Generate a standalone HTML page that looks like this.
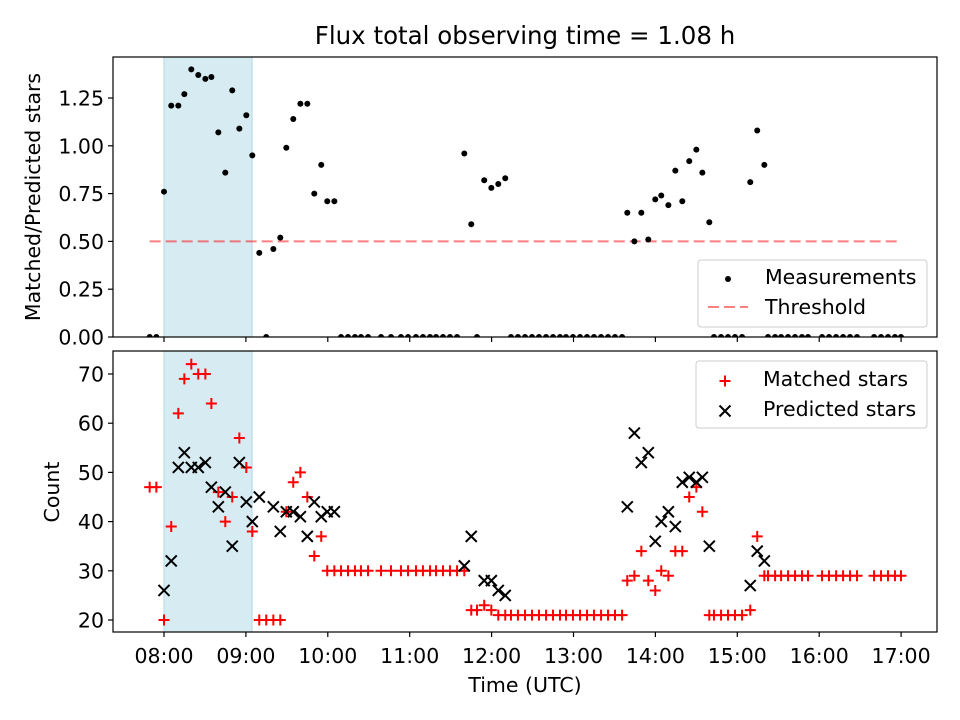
<!DOCTYPE html>
<html><head><meta charset="utf-8">
<style>
html,body{margin:0;padding:0;background:#fff;}
svg{display:block;font-family:"DejaVu Sans","Liberation Sans",sans-serif;}
</style></head>
<body>
<svg id="chart" width="960" height="720" viewBox="0 0 960 720" xmlns="http://www.w3.org/2000/svg">
<defs>
<clipPath id="clipTop"><rect x="113" y="57" width="824" height="280"/></clipPath>
<clipPath id="clipBot"><rect x="113" y="351" width="824" height="281"/></clipPath>
</defs>
<rect width="960" height="720" fill="#fff"/>
<text x="525" y="44" font-size="24.5" text-anchor="middle" fill="#000">Flux total observing time = 1.08 h</text>
<g id="topAxes"></g>
<g id="botAxes"></g>
<text transform="translate(40,197) rotate(-90)" font-size="20.5" text-anchor="middle">Matched/Predicted stars</text>
<text transform="translate(59,492) rotate(-90)" font-size="20.5" text-anchor="middle">Count</text>
<text x="525" y="692" font-size="20.5" text-anchor="middle">Time (UTC)</text>
</svg>
<script>
// minutes since 08:00
const ratioTimes = [0,5.3,10.5,14.9,20,25.1,30.3,34.7,39.8,44.9,50,55.2,60.3,64.7,69.8,80.1,85.2,89.6,94.7,99.9,105,110.1,115.2,119.6,124.8,220,225.1,234.6,239.8,244.9,250,339.4,344.6,349.7,354.8,359.9,364.3,369.5,374.6,379.7,384.8,390,394.4,399.5,429.5,434.6,439.8];
const ratioValues = [0.76,1.21,1.21,1.27,1.40,1.37,1.35,1.36,1.07,0.86,1.29,1.09,1.16,0.95,0.44,0.46,0.52,0.99,1.14,1.22,1.22,0.75,0.90,0.71,0.71,0.96,0.59,0.82,0.78,0.80,0.83,0.65,0.50,0.65,0.51,0.72,0.74,0.69,0.87,0.71,0.92,0.98,0.86,0.60,0.81,1.08,0.90];
const zeroTimes = [-10.5,-5.6,74.9,129.7,134.8,139.9,144.3,149.5,159.0,166.3,173.6,178.8,184.6,189.7,194.9,199.3,204.4,209.5,214.7,229.3,254.2,259.3,264.5,269.6,274.7,279.9,285.0,290.1,294.5,299.6,304.8,309.9,315.0,320.2,325.3,330.4,335.6,402.9,408.1,413.2,418.3,423.5,442.5,447.7,452.1,457.2,462.3,467.4,471.8,482.1,487.2,492.4,497.5,502.6,507.7,520.2,525.3,530.4,535.5,539.9];
const matchedTimes = [-10.5,-5.6,0,5.3,10.5,14.9,20,25.1,30.3,34.7,39.8,44.9,50,55.2,60.3,64.7,69.8,74.9,80.1,85.2,89.6,94.7,99.9,105,110.1,115.2,119.6,124.8,129.7,134.8,139.9,144.3,149.5,159.0,166.3,173.6,178.8,184.6,189.7,194.9,199.3,204.4,209.5,214.7,220,225.1,229.3,234.6,239.8,244.9,250,254.2,259.3,264.5,269.6,274.7,279.9,285.0,290.1,294.5,299.6,304.8,309.9,315.0,320.2,325.3,330.4,335.6,339.4,344.6,349.7,354.8,359.9,364.3,369.5,374.6,379.7,384.8,390,394.4,399.5,402.9,408.1,413.2,418.3,423.5,429.5,434.6,439.8,442.5,447.7,452.1,457.2,462.3,467.4,471.8,482.1,487.2,492.4,497.5,502.6,507.7,520.2,525.3,530.4,535.5,539.9];
const matchedValues = [47,47,20,39,62,69,72,70,70,64,46,40,45,57,51,38,20,20,20,20,42,48,50,45,33,37,30,30,30,30,30,30,30,30,30,30,30,30,30,30,30,30,30,30,30,22,22,23,22,21,21,21,21,21,21,21,21,21,21,21,21,21,21,21,21,21,21,21,28,29,34,28,26,30,29,34,34,45,47,42,21,21,21,21,21,21,22,37,29,29,29,29,29,29,29,29,29,29,29,29,29,29,29,29,29,29,29];
const predictedTimes = [0,5.3,10.5,14.9,20,25.1,30.3,34.7,39.8,44.9,50,55.2,60.3,64.7,69.8,80.1,85.2,89.6,94.7,99.9,105,110.1,115.2,119.6,124.8,220,225.1,234.6,239.8,244.9,250,339.4,344.6,349.7,354.8,359.9,364.3,369.5,374.6,379.7,384.8,390,394.4,399.5,429.5,434.6,439.8];
const predictedValues = [26,32,51,54,51,51,52,47,43,46,35,52,44,40,45,43,38,42,42,41,37,44,41,42,42,31,37,28,28,26,25,43,58,52,54,36,40,42,39,48,49,48,49,35,27,34,32];
const xTickLabels = ["08:00","09:00","10:00","11:00","12:00","13:00","14:00","15:00","16:00","17:00"];
const topTicks = [0,0.25,0.5,0.75,1.0,1.25];
const topTickLabels = ["0.00","0.25","0.50","0.75","1.00","1.25"];
const botTicks = [20,30,40,50,60,70];
const threshold = 0.5;
const spanStart = 0, spanEnd = 64.5;

const NS = "http://www.w3.org/2000/svg";
const X = m => 164 + m * 81.9 / 60;
const YT = v => 337 - v * 191.2;
const YB = v => 620 - (v - 20) * 4.92;
function mk(tag, attrs, parent){const e=document.createElementNS(NS,tag);for(const k in attrs)e.setAttribute(k,attrs[k]);parent.appendChild(e);return e;}
const topG = document.getElementById('topAxes'), botG = document.getElementById('botAxes');
const FS = 20.5;

function span(g, y0, y1, name){
  const sp = mk('rect',{x:X(spanStart),y:y0,width:X(spanEnd)-X(spanStart),height:y1-y0,fill:'#add8e6','fill-opacity':0.5,stroke:'#add8e6','stroke-width':1},g);
  
  
}
span(topG,57,337,'top');
span(botG,351,632,'bottom');

const th = mk('line',{x1:X(-10.5),x2:X(539.9),y1:YT(threshold),y2:YT(threshold),stroke:'#ff0000','stroke-opacity':0.5,'stroke-width':2,'stroke-dasharray':'11,5'},topG);



const tg = mk('g',{'clip-path':'url(#clipTop)'},topG);
ratioTimes.forEach((t,i)=>{
  const c = mk('circle',{cx:X(t),cy:YT(ratioValues[i]),r:3,fill:'#000'},tg);
  
  
});
zeroTimes.forEach(t=>{
  const c = mk('circle',{cx:X(t),cy:YT(0),r:3,fill:'#000'},tg);
  
  
});

const bg = mk('g',{'clip-path':'url(#clipBot)'},botG);
function plus(g,cx,cy,s){mk('path',{d:`M${cx-s},${cy}H${cx+s}M${cx},${cy-s}V${cy+s}`,stroke:'#ff0000','stroke-width':2,fill:'none'},g);}
function cross(g,cx,cy,s){mk('path',{d:`M${cx-s},${cy-s}L${cx+s},${cy+s}M${cx-s},${cy+s}L${cx+s},${cy-s}`,stroke:'#000','stroke-width':2,fill:'none'},g);}
matchedTimes.forEach((t,i)=>{
  const g = mk('g',{},bg);
  
  
  plus(g,X(t),YB(matchedValues[i]),5.5);
});
predictedTimes.forEach((t,i)=>{
  const g = mk('g',{},bg);
  
  
  cross(g,X(t),YB(predictedValues[i]),5.5);
});

function frame(g,y0,y1,name){
  const r = mk('rect',{x:113,y:y0,width:824,height:y1-y0,fill:'none',stroke:'#000','stroke-width':1.2},g);
  
  
  xTickLabels.forEach((lab,i)=>{
    const x = X(i*60);
    mk('line',{x1:x,x2:x,y1:y1,y2:y1+5,stroke:'#000','stroke-width':1.2},g);
  });
}
frame(topG,57,337,'top');
frame(botG,351,632,'bottom');
xTickLabels.forEach((lab,i)=>{
  const t = mk('text',{x:X(i*60),y:663,'font-size':FS,'text-anchor':'middle'},botG);
  t.textContent = lab;
  
  
});
topTicks.forEach((v,i)=>{
  mk('line',{x1:108,x2:113,y1:YT(v),y2:YT(v),stroke:'#000','stroke-width':1.2},topG);
  const t = mk('text',{x:104,y:YT(v)+7.5,'font-size':FS,'text-anchor':'end'},topG);
  t.textContent = topTickLabels[i];
  
  
});
botTicks.forEach(v=>{
  mk('line',{x1:108,x2:113,y1:YB(v),y2:YB(v),stroke:'#000','stroke-width':1.2},botG);
  const t = mk('text',{x:104,y:YB(v)+7.5,'font-size':FS,'text-anchor':'end'},botG);
  t.textContent = String(v);
  
  
});

const l1 = mk('g',{},topG);


mk('rect',{x:698,y:260,width:229,height:67,rx:3,fill:'#fff','fill-opacity':0.8,stroke:'#ccc','stroke-width':1},l1);
mk('circle',{cx:728,cy:279,r:3,fill:'#000'},l1);
let t1 = mk('text',{x:765,y:284,'font-size':FS},l1); t1.textContent='Measurements';


mk('line',{x1:708,x2:748,y1:307,y2:307,stroke:'#ff0000','stroke-opacity':0.5,'stroke-width':2,'stroke-dasharray':'11,5'},l1);
let t2 = mk('text',{x:765,y:314,'font-size':FS},l1); t2.textContent='Threshold';



const l2 = mk('g',{},botG);


mk('rect',{x:696,y:361,width:231,height:67,rx:3,fill:'#fff','fill-opacity':0.8,stroke:'#ccc','stroke-width':1},l2);
plus(l2,725,381,5.5);
let t3 = mk('text',{x:763,y:386,'font-size':FS},l2); t3.textContent='Matched stars';


cross(l2,725,411,5.5);
let t4 = mk('text',{x:763,y:416,'font-size':FS},l2); t4.textContent='Predicted stars';


</script>
</body></html>
